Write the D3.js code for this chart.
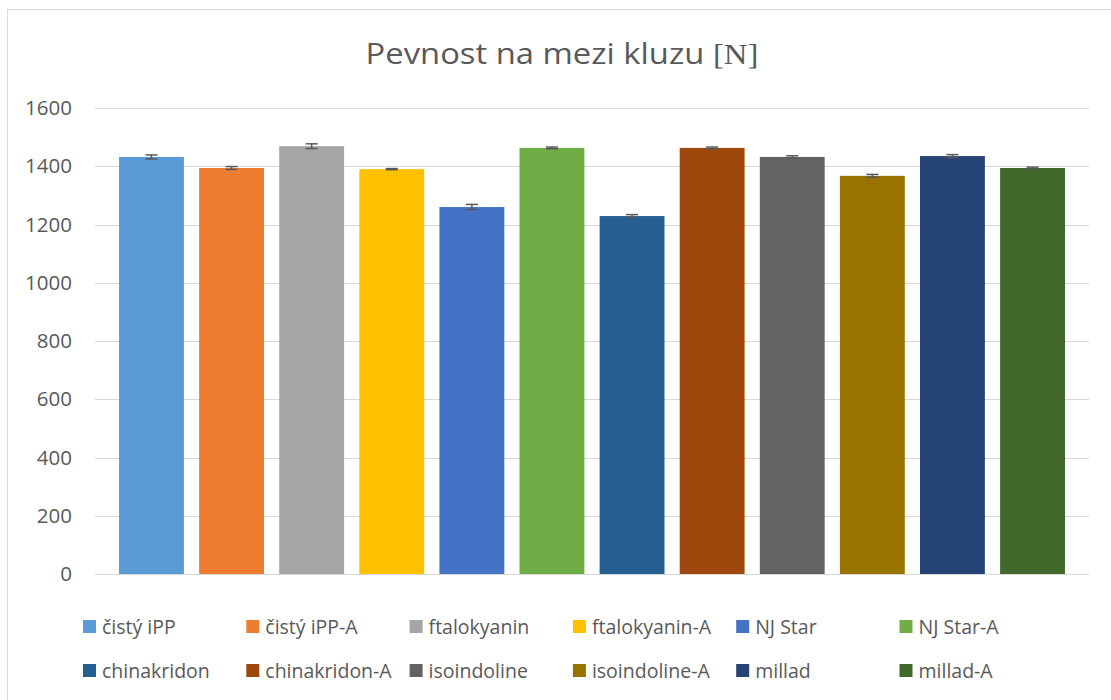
<!DOCTYPE html>
<html>
<head>
<meta charset="utf-8">
<script src="https://cdn.jsdelivr.net/npm/d3@7"></script>
<style>
    body { margin: 0; background: #fff; }
    svg text { font-family: "Open Sans", Lato, sans-serif; fill: #595959; }
</style>
</head>
<body>
<svg id="chart"></svg>
<script>
// data
const categories = ["čistý iPP", "čistý iPP-A", "ftalokyanin", "ftalokyanin-A", "NJ Star", "NJ Star-A",
    "chinakridon", "chinakridon-A", "isoindoline", "isoindoline-A", "millad", "millad-A"];
const values = [1432, 1394, 1469, 1390, 1260, 1463, 1229, 1463, 1432, 1367, 1435, 1394];
const errors = [7, 5, 8, 2, 9, 3, 5, 3, 4, 5, 5, 3];
const yTicks = [0, 200, 400, 600, 800, 1000, 1200, 1400, 1600];
const colors = ["#5B9BD5", "#ED7D31", "#A5A5A5", "#FFC000", "#4472C4", "#70AD47",
    "#255E91", "#9E480E", "#636363", "#997300", "#264478", "#43682B"];

const width = 1111;
const height = 700;
const margin = { top: 108, right: 22, bottom: 126, left: 95 };

const svg = d3.select("#chart")
    .attr("width", width)
    .attr("height", height);

// rámeček grafu
svg.append("rect")
    .attr("x", 7.5).attr("y", 9.5)
    .attr("width", width + 10).attr("height", height + 10)
    .attr("fill", "none")
    .attr("stroke", "#d9d9d9")
    .attr("stroke-width", 1);

// titulek (trochu roztažený do šířky jako Calibri)
const title = svg.append("text")
    .attr("transform", "translate(562,64) scale(1.13,1)")
    .attr("text-anchor", "middle")
    .attr("font-size", "29px");
title.append("tspan").text("Pevnost na mezi kluzu ");
title.append("tspan").style("font-family", "'Liberation Serif', 'DejaVu Serif', serif").text("[N]");

const x = d3.scaleBand()
    .domain(categories)
    .range([margin.left, width - margin.right])
    .paddingInner(0.19)
    .paddingOuter(0.3);

const y = d3.scaleLinear()
    .domain([0, 1600])
    .range([height - margin.bottom, margin.top]);

// mřížka
svg.append("g")
    .selectAll("line")
    .data(yTicks)
    .join("line")
    .attr("x1", margin.left)
    .attr("x2", width - margin.right)
    .attr("y1", d => Math.round(y(d)) + 0.5)
    .attr("y2", d => Math.round(y(d)) + 0.5)
    .attr("stroke", "#d9d9d9")
    .attr("stroke-width", 1);

// osa y
const yAxis = svg.append("g")
    .attr("transform", `translate(${margin.left - 23},0)`)
    .call(d3.axisLeft(y).tickValues(yTicks).tickSize(0).tickPadding(0).tickFormat(d3.format("d")));
yAxis.select(".domain").remove();
yAxis.selectAll("text")
    .attr("font-size", "20.5px")
    .attr("fill", "#595959")
    .style("font-family", "'Open Sans', Lato, sans-serif");

// sloupce
svg.append("g")
    .selectAll("rect")
    .data(categories)
    .join("rect")
    .attr("x", d => x(d))
    .attr("y", (d, i) => y(values[i]))
    .attr("width", x.bandwidth())
    .attr("height", (d, i) => y(0) - y(values[i]))
    .attr("fill", (d, i) => colors[i]);

// chybové úsečky
const err = svg.append("g")
    .attr("stroke", "#595959")
    .attr("stroke-width", 1.5);
categories.forEach((c, i) => {
    const cx = x(c) + x.bandwidth() / 2;
    const top = y(values[i] + errors[i]);
    const bot = y(values[i] - errors[i]);
    err.append("line").attr("x1", cx).attr("x2", cx).attr("y1", top).attr("y2", bot);
    err.append("line").attr("x1", cx - 6).attr("x2", cx + 6).attr("y1", top).attr("y2", top);
    err.append("line").attr("x1", cx - 6).attr("x2", cx + 6).attr("y1", bot).attr("y2", bot);
});

// legenda
const legend = svg.append("g");
categories.forEach((c, i) => {
    const col = i % 6;
    const row = Math.floor(i / 6);
    const lx = 83 + col * 163.3;
    const ly = 627 + row * 44;
    legend.append("rect")
        .attr("x", lx).attr("y", ly - 7)
        .attr("width", 13).attr("height", 13)
        .attr("fill", colors[i]);
    legend.append("text")
        .attr("x", lx + 19)
        .attr("y", ly + 7)
        .attr("font-size", "19.5px")
        .text(c);
});
</script>
</body>
</html>
